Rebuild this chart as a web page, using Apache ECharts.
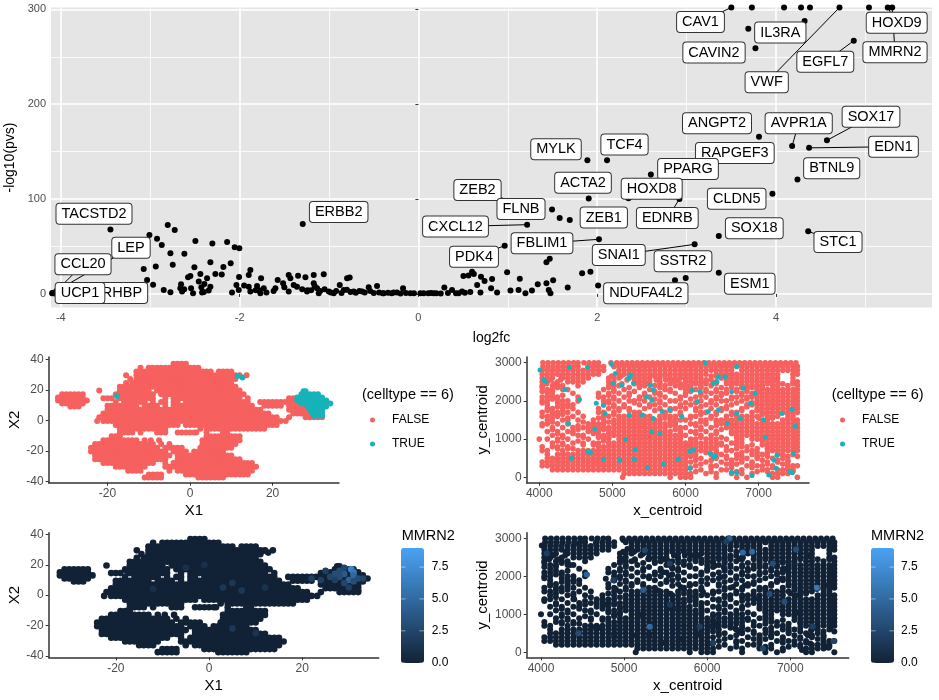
<!DOCTYPE html>
<html><head><meta charset="utf-8">
<style>html,body{margin:0;padding:0;background:#fff}#c{width:939px;height:700px}</style>
<script src="https://cdn.jsdelivr.net/npm/echarts@6/dist/echarts.min.js"></script>
</head><body><div id="c"></div>
<script>
// ---------- volcano data ----------
const geneNames=['CAV1','IL3RA','CAVIN2','VWF','EGFL7','HOXD9','MMRN2','SOX17','ANGPT2','AVPR1A','EDN1','RAPGEF3','TCF4','MYLK','BTNL9','PPARG','HOXD8','ACTA2','ZEB2','CLDN5','FLNB','ZEB1','EDNRB','CXCL12','FBLIM1','PDK4','SNAI1','SSTR2','SOX18','STC1','ESM1','NDUFA4L2','TACSTD2','ERBB2','LEP','CCL20','RHBP','UCP1'];
const geneFc=[3.50,4.32,3.77,4.71,4.87,5.25,5.30,4.57,3.81,4.18,4.37,3.86,2.11,1.89,4.24,2.60,2.35,1.905,1.20,3.96,1.495,1.693,2.92,1.216,2.02,0.965,3.09,2.99,3.36,4.36,3.36,2.01,-3.445,-1.294,-4.09,-4.05,-3.62,-4.07];
const genePv=[302,287.7,259,302,267,302,302,162,165.6,156,154,157,141,141,120.7,126,101,100.7,93,105.6,89.1,77.9,100,73,57.6,50.8,52.3,16.8,61,66,22.4,9,68,73.7,1,3,1,0.5];
const otherFc=[3.73,4.09,4.28,4.38,5.04,3.69,2.87,1.58,-3.009,-2.924,-2.871,-2.804,-2.726,-2.774,-2.495,-2.618,-2.305,-2.14,-2.055,-2.003,-2.1,-2.327,-2.182,-2.748,-2.938,-3.073,-2.506,-2.551,-2.577,-2.439,-2.271,-2.2,-2.364,-2.457,-2.394,-3.035,-2.968,-2.849,-2.774,-2.655,-2.663,-2.644,-2.543,-2.521,-2.428,-2.42,-2.327,-2.346,-1.88,-1.898,-2.006,-1.76,-2.036,-2.01,-2.085,-1.898,-1.88,-1.805,-1.73,-1.768,-1.574,-1.514,-1.6,-1.451,-1.432,-1.346,-1.264,-1.171,-1.059,-1.395,-1.358,-1.451,-1.246,-1.171,-1.134,-1.115,-1.003,-0.947,-0.88,-0.798,-0.769,-0.835,-0.724,-0.63,-0.556,-0.463,-0.388,-0.276,-0.172,-0.09,0.022,0.171,0.29,0.376,0.488,0.503,-4.098,0.6,0.74,0.824,0.657,0.694,0.813,0.88,0.992,1.134,1.03,1.12,1.197,1.27,1.335,1.432,1.458,1.477,1.507,1.432,1.469,1.67,1.831,1.924,0.56,0.62,0.7,-1.2,-1.16,-1.1,-1.05,-0.98,-0.92,-0.86,-0.8,-0.76,-0.7,-0.66,-0.6,-0.54,-0.5,-0.44,-0.4,-0.34,-0.3,-0.24,-0.2,-0.14,-0.05,0.06,0.11,0.14,0.2,0.25,0.33,0.42,0.45,0.52,0.58,-1.3,-1.24,-1.5,-1.62,-1.7,-1.95,-2.62,-2.4,-1.82,-1.78,-1.68];
const otherPv=[302,302,302,302,302,279.6,14.4,80,62.1,58.2,51.6,72.6,67.4,42.8,55.8,42.5,53.3,54.7,49.1,48.1,32.3,33.3,28.4,30.9,28.8,26.3,28.1,19,17.5,21,21,20.4,16.5,13,10.5,14.7,9.8,4.2,1.8,10.2,6,2.5,6,0.8,7,1.4,7.7,3.5,25.3,20,17.9,16.5,9.5,4.2,1.4,7.7,2.5,8.4,6,0.8,14.7,11.2,6,20,16.5,19.3,17.5,20,20.7,9.5,7.7,2.5,2.5,11.2,6,0.8,2.5,0.8,9.5,16.5,17.2,4.2,2.5,2.5,7,8.4,0.8,1.4,6,0.8,0.8,0.8,6.7,4.2,2.5,19,0.8,23.5,13.7,15.8,9.5,1.4,6,1.4,22.8,16.1,3.5,4.2,0.7,3.5,10.2,11.2,4.2,0.7,14.4,33.3,37.2,6.7,21.7,23.5,19.5,21,18,4,8,3,5,1.5,3,1,4.5,2,1.2,3.2,1.5,3,1,1.5,0.6,1.2,0.7,1.4,0.5,1,0.8,0.6,0.7,1,0.6,0.5,1,0.7,0.6,1.2,2,5,4,7,3,1.5,9,5,2,4,4];
// label box centres and which labels carry a connector (layout, page pixels)
const labelCx=[700.5,780.3,714,766.7,825.3,896.7,895,871,717,798.7,893.5,734.8,624.5,556,831.7,688,651.7,583,477.5,736.7,521,603.8,667.3,455.5,542,474,618.8,683,754.3,838,749.8,645.8,94,338.7,131,83,122,80];
const labelCy=[22,32.5,52.5,82.3,61.8,22.8,52.3,116.7,123.3,123.3,146.7,153,144.5,149.3,168.3,169,188.8,182.7,190,198.7,209,217.5,218,226.5,243.3,256.7,255,261.2,228.3,242,283.7,293.3,213.7,212,247.7,264.2,293,293];
const stemmed=['CAV1','VWF','EGFL7','HOXD9','MMRN2','SOX17','AVPR1A','EDN1','RAPGEF3','HOXD8','ZEB2','EDNRB','CXCL12','FBLIM1','PDK4','SNAI1','STC1','LEP','CCL20','RHBP'];

// ---------- t-SNE coordinates, row by row ----------
const tsneRowY=[37,34.5,32,29.5,27,24.5,22,19.5,17,14.5,12,9.5,7,4.5,2,-0.5,-3,-5.5,-8,-10.5,-13,-15.5,-18,-20.5,-23,-25.5,-28,-30.5,-33,-35.5,-37.5];
const tsneRowX=[
[-4,-3,-2,-1],
[-12,-10,-9,-8,-7,-6,-5,-4,-3,-2,-1,0,1,2],
[-13,-12,-11,-10,-9,-8,-7,-6,-5,-4,-3,-2,-1,0,1,2,3,4,5,7,8,9,10],
[-15.5,-13,-12,-11,-10,-9,-8,-7,-6,-5,-4,-3,-2,-1,0,1,2,3,4,5,6,7,8,9,10,11,12,13.7],
[-14.5,-13,-12,-11,-10,-9,-8,-7,-6,-5,-4,-3,-2,-1,0,1,2,3,4,5,6,7,8,9,10,11],
[-15.5,-14,-13,-12,-11,-10,-9,-8,-7,-6,-5,-4,-3,-2,-1,0,1,2,3,4,5,6,7,8,9,10],
[-17,-16,-15,-14,-13,-12,-11,-10,-9,-8,-7,-6,-5,-4,-3,-2,-1,0,1,2,3,4,5,6,7,8,9,10,11],
[-22,-17,-16,-15,-14,-13,-12,-11,-10,-8,-7,-6,-5,-4,-3,-2,-1,0,1,2,3,4,5,6,7,8,9,10,11,12],
[-18,-17,-16,-15,-14,-13,-12,-11,-10,-9,-7,-6,-5,-4,-3,-2,-1,0,1,2,3,4,5,6,7,8,9,10,11,12,13],
[-21,-20,-19,-17,-16,-15,-14,-13,-12,-11,-10,-9,-6,-4,-3,-2,-1,0,1,2,3,4,5,6,7,8,9,10,11,12,14,24,25],
[-18,-16,-15,-14,-13,-12,-11,-9,-7,-6,-4,-3,-1,0,1,2,3,4,5,6,7,8,9,10,11,12,13,14,17,18,19,20,21,22,23,24,25,26],
[-20,-19,-18,-17,-16,-15,-14,-13,-11,-10,-9,-8,-6,-4,-3,-2,-1,0,1,2,3,4,5,6,7,8,9,10,11,12,13,14,15,18,19,20,21,22,24,25,26,27,28],
[-20,-19,-18,-17,-16,-15,-14,-13,-12,-11,-10,-9,-8,-7,-6,-5,-4,-3,-2,-1,0,1,2,3,4,5,6,7,8,9,10,11,12,13,14,15,16,17,24,25,26,27,28],
[-21,-20,-19,-18,-17,-16,-15,-14,-13,-12,-11,-10,-9,-8,-7,-6,-5,-4,-3,-2,-1,0,1,2,3,4,5,6,7,8,9,10,11,12,13,14,15,16,17,18,19,25,26,27,28,29,30,31],
[-22,-21,-20,-19,-18,-17,-16,-15,-14,-13,-12,-11,-10,-9,-8,-7,-6,-5,-4,-3,-2,-1,0,1,2,3,4,5,6,7,8,9,10,11,12,13,14,15,16,17,18,19,20,21,24,28,29,30,31,32],
[-22.5,-21,-20,-19,-18,-17,-16,-15,-14,-13,-12,-11,-10,-9,-8,-7,-6,-5,-4,-3,-2,-1,0,1,2,3,4,5,6,7,8,9,10,11,12,13,14,15,16,17,18,19,20,21,22,23.2],
[-18,-17,-16,-15,-14,-13,-12,-11,-10,-9,-8,-7,-6,-5,-4,-3,-1,0,1,2,3,4,5,6,7,8,9,10,11,12,13,14,15,16,17,18,19,20,21],
[-17,-16,-15,-14,-13,-12,-11,-10,-9,-8,-7,-6,2.5,4,5,6,7,8,9,10,11,12,13,14,15,16,17,18],
[-17,-16,-15,-14,-12,-8,-7,-6,-3,-2,-1,0,1,1.5,4,8,9],
[-19,-18,-17,4,5,6,7,8,9,10,11,12],
[-21,-20,-19,-18,-17,-16,-15,-14,-13,-11,-9.5,-7.5,3,4,5,6,7,8,9,10,11,12],
[-23,-22,-21,-20,-19,-18,-17,-16,-15,-14,-13,-12,-11,-10,-9,-7,-5,3,4,5,6,7,8,9,10,11],
[-24,-23,-22,-21,-20,-19,-18,-17,-16,-15,-14,-13,-12,-11,-10,-9,-8,-6,-5,-4,-3,-2,2.5,3,4,5,6,7,8,9,10],
[-24,-23,-22,-21,-20,-19,-18,-17,-16,-15,-14,-13,-12,-11,-10,-9,-8,-7,-6,-4,-3,-2,-1,1,2,3,4,5,6,7,8],
[-23,-22,-21,-20,-19,-18,-17,-16,-15,-14,-13,-12,-11,-10,-9,-8,-7,-6,-5,-3,-2,-1,0,1,2,3,4,5,6,7,8,9,10],
[-23,-22,-21,-20,-19,-18,-17,-16,-15,-14,-13,-12,-11,-10,-9,-8,-7,-6,-3,-2,-1,0,1,2,3,4,5,6,7,8,9,10,11,12],
[-21,-20,-19,-18,-17,-16,-15,-14,-13,-12,-11,-10,-9,-6,-4,-3,-2,-1,0,1,2,3,4,5,6,7,8,9,10,11,12,13,14,15],
[-18,-17,-16,-15,-14,-13,-12,-11,-6,-5,-4,-3,-2,-1,0,1,2,3,4,5,6,7,8,9,10,11,12,13,14,15,16],
[-15,-14,-13,-12,-5,-3,-2,-1,0,1,2,3,4,5,6,7,8,9,10,11,12,13,14,15],
[-10,-9,-8,-7,-1,0,1,2,3,4,5,6,7,8,9,10,11,12,13,14],
[-11,-10,-9,-8,-7,2,3,4,5,6,7,8]];
const tsneIslandY=[17,15,13,11,9];
const tsneIslandX=[[-31,-30,-29,-28,-27,-26],[-32,-31,-30,-29,-28,-27,-26],[-32,-31,-30,-29,-28,-27,-26,-25],[-31,-30,-29,-28,-27,-26],[-29,-28,-27]];
const tsneTrueY=[19,17,15,13,11,9,7,5,3,28,29,16];
const tsneTrueX=[[27.5,28],[27,28,29,30,31],[26,27,28,29,30,31,32],[26,27,28,29,30,31,32,33],[27,28,29,30,31,32,33,34],[28.5,29.5,30,31,32,33],[29,30,31,32],[29.5,30,31,32],[30,31,32],[12.7],[11.5],[-17.7]];
const tsneExpr=[[30.5,17,7],[31,15,6],[29,14,4],[28,12,3],[31,13,5],[32,11,3],[27,14,3],[30,10,4.5],[26,12,2.5],[28,16,3],[25,16,2],[24,10,2],[22,11,2],[29,8,2.5],[31,9,3],[33,11,2.5],[29,18,2.5],[27,10,2],[30,5,2],[5,8,1.5],[-1,20,1],[7,3,1.5],[3,5,1.5],[-12,4,1],[5,-22,1.5],[10,-25,1.2],[-5,18,1],[12,5,1.2]];

// ---------- spatial coordinates, row by row ----------
const spaceRowY=[3000,2900,2800,2700,2600,2500,2400,2300,2200,2100,2000,1900,1800,1700,1600,1500,1400,1300,1200,1100,1000,900,800,700,600,500,400,300,200,100,0];
const spaceRowX=[
[4050,4120,4190,4260,4330,4400,4470,4530,4610,4680,4750,4810,4980,5060,5130,5200,5270,5340,5410,5480,5550,5620,5690,5760,5830,5900,5970,6040,6110,6180,6250,6320,6390,6460,6530,6600,6670,6740,6810,6880,6950,7020,7090,7160,7230,7300,7370,7440,7510],
[4050,4120,4190,4260,4330,4400,4470,4530,4670,4740,4810,4880,5020,5090,5160,5230,5300,5370,5440,5510,5580,5650,5720,5790,5860,5930,6000,6070,6140,6210,6280,6350,6420,6490,6560,6630,6700,6770,6840,6910,6980,7050,7120,7190,7260,7330,7400,7470,7530],
[4040,4110,4180,4250,4320,4390,4460,4530,4600,4670,4740,4810,4880,5090,5160,5230,5300,5370,5440,5510,5580,5650,5720,5790,5860,5930,6000,6070,6140,6210,6280,6350,6420,6490,6560,6630,6770,6840,6910,6980,7050,7120,7190,7260,7330,7400,7470,7530],
[4040,4110,4180,4250,4320,4390,4460,4530,4600,4670,4740,4810,5090,5160,5230,5300,5370,5440,5510,5580,5650,5720,5790,5860,5930,6000,6070,6140,6210,6280,6420,6490,6560,6630,6700,6770,6840,6910,6980,7050,7120,7190,7260,7470,7530],
[4040,4110,4180,4320,4390,4460,4530,4600,4670,4950,5020,5090,5230,5300,5370,5440,5510,5650,5790,5860,5930,6000,6070,6140,6210,6490,6560,6630,6700,6770,6840,6910,6980,7050,7120,7190,7260,7470],
[4040,4110,4250,4390,4460,4530,4600,4950,5020,5300,5370,5440,5510,5650,5860,6000,6070,6140,6210,6280,6420,6630,6700,6770,6840,6910,6980,7050,7120,7190,7260,7470,7530],
[4040,4180,4250,4320,4530,4950,5020,5090,5370,5440,5580,5720,5860,6000,6070,6210,6350,6630,6770,6840,6910,6980,7050,7190,7260,7400,7530],
[4110,4180,4320,4390,4880,5020,5160,5510,5720,5790,6000,6140,6280,6420,6560,6700,6840,6980,7050,7120,7190,7260,7330,7400,7470,7530],
[4110,4460,4810,4950,5090,5230,5440,5580,5650,5860,6000,6210,6350,6490,6560,6770,6910,6980,7050,7120,7190,7260,7330,7400,7470,7530],
[4040,4110,4250,4530,4810,4880,5020,5160,5370,5510,5720,5930,6140,6280,6420,6630,6700,6840,6910,6980,7050,7120,7190,7260,7330,7400,7470,7530],
[4040,4110,4320,4390,4530,4880,4950,5090,5230,5300,5440,5650,5790,5860,6210,6350,6490,6560,6770,6980,7050,7120,7190,7260,7330,7400,7470,7530],
[4110,4320,4390,4460,4880,5020,5160,5370,5510,5580,5720,5930,6070,6280,6420,6630,6840,6910,6980,7050,7120,7190,7260,7330,7400,7470,7530],
[4110,4180,4320,4460,4810,4950,5090,5230,5440,5650,5790,5860,6000,6140,6350,6490,6560,6770,6980,7050,7120,7190,7260,7330,7400,7470,7530],
[4040,4180,4250,4390,4530,4810,4880,5020,5300,5370,5720,5930,6210,6280,6420,6630,6700,6910,7050,7120,7190,7260,7330,7400,7470,7530],
[4040,4110,4250,4460,4600,4880,4950,5090,5160,5230,5300,5370,5440,5510,5650,5790,5860,6070,6140,6350,6560,6700,6770,6840,6910,6980,7120,7190,7260,7470],
[4110,4320,4390,4530,4740,4880,5020,5090,5160,5230,5300,5370,5440,5510,5580,5650,5790,5930,6000,6210,6280,6420,6490,6560,6630,6700,6770,6840,6910,7050,7120,7330,7400,7470,7530],
[4040,4110,4250,4390,4670,4740,4810,4880,5020,5090,5160,5230,5300,5370,5440,5510,5580,5650,5720,5860,6070,6140,6280,6490,6560,6630,6700,6770,6840,6910,6980,7050,7120,7190,7260,7330,7400,7470,7530],
[4180,4320,4460,4600,4670,4810,4880,4950,5020,5090,5160,5230,5300,5370,5440,5510,5580,5650,5720,5930,6000,6210,6350,6560,6630,6700,6770,6840,6910,6980,7050,7120,7190,7260,7330,7400,7470,7530],
[4110,4250,4390,4460,4670,4810,4950,5020,5090,5160,5230,5300,5370,5440,5510,5580,5650,5720,5790,5930,6070,6140,6280,6420,6630,6700,6770,6840,6910,6980,7050,7120,7190,7260,7330,7400,7470,7530],
[4180,4320,4530,4600,4810,4880,5020,5090,5160,5230,5300,5370,5440,5510,5580,5650,5720,5790,5860,6000,6210,6350,6700,6770,6840,6910,6980,7050,7120,7190,7260,7330,7400,7470,7530],
[4000,4110,4250,4390,4670,4880,4950,5090,5160,5230,5300,5370,5440,5510,5580,5650,5720,5790,5860,5930,6070,6140,6280,6350,6420,6560,6770,6910,6980,7050,7120,7190,7260,7330,7400,7470,7530],
[4180,4320,4460,4600,4740,4810,4950,5020,5090,5160,5230,5300,5370,5440,5510,5580,5650,5720,5790,5860,5930,6000,6140,6210,6280,6350,6420,6490,6630,6770,7120,7190,7260,7330,7400,7470,7530],
[4040,4180,4250,4390,4810,4880,4950,5020,5090,5160,5230,5300,5370,5440,5510,5580,5650,5720,5790,5860,5930,6000,6070,6140,6210,6280,6350,6420,6560,6770,6840,7120,7190,7260,7330,7400,7470,7530],
[4040,4110,4320,4530,4600,4670,4740,4810,4880,4950,5020,5090,5160,5230,5300,5370,5440,5510,5580,5650,5720,5790,5860,5930,6000,6070,6140,6210,6280,6420,6560,6630,6840,6910,7190,7260,7330,7400,7470,7530],
[4110,4250,4320,4390,4460,4530,4600,4670,4740,4810,4880,4950,5020,5090,5160,5230,5300,5370,5440,5510,5580,5650,5720,5790,5860,5930,6000,6140,6350,6490,6700,6910,7050,7260,7330,7470],
[4110,4180,4250,4320,4390,4460,4530,4600,4670,4740,4810,4880,4950,5020,5090,5160,5230,5300,5370,5440,5510,5580,5650,5720,5790,5860,5930,6000,6140,6210,6420,6560,6700,6840,6980,7190,7330],
[4040,4110,4180,4250,4320,4390,4460,4530,4600,4670,4740,4810,4880,4950,5020,5090,5160,5230,5300,5370,5440,5510,5580,5650,5720,5790,5860,5930,6000,6070,6280,6490,6630,6770,6910,7120,7260,7400],
[4040,4110,4180,4250,4320,4390,4460,4530,4600,4670,4740,4810,4880,4950,5020,5090,5160,5230,5300,5370,5440,5510,5580,5650,5720,5790,5860,5930,6000,6140,6350,6420,6630,6840,6980,7050,7190,7400,7470,7530],
[4180,4250,4320,4390,4460,4530,4600,4670,4740,4810,4880,4950,5020,5090,5160,5230,5300,5370,5440,5510,5580,5650,5720,5790,5860,5930,6000,6210,6490,6560,6770,7050,7120,7260,7330,7400,7470],
[5160,5230,5300,5370,5440,5510,5580,5650,5720,5790,5860,5930,6000,6070,6280,6420,6630,6770,6910,7190,7260,7330,7400],
[5140,5790,5930,6000,6070,6420,6700,6840,7190,7260,7530]];
const spaceFillY=[2650,2550,2450,2350,2250,2150,2050,1950,1850,1750,1650,1550,1450,1350,1250,1150,1050,950,850,750,650,550,450,350,250,150];
const spaceFillX=[
[4300,4990,5120,5580,5720,6350,6420],
[4150,4290,5200,5600,5730,5800,5900,6280,6350,6560,7200],
[4100,4200,4990,5130,5300,5480,5650,5790,5930,6140,6280,6420,6560,6700,7120,7330,7470],
[4040,4250,4950,5230,5370,5650,5930,6070,6210,6490,6630,6770,6910,7050],
[4040,4180,5020,5300,5580,5790,6070,6280,6420,6700,6840,6980],
[4180,4320,4950,5230,5440,5650,6000,6210,6490,6770,6910],
[4180,4250,5020,5370,5580,5930,6070,6420,6630,6840],
[4040,4250,4950,5300,5650,6000,6140,6350,6700,6910],
[4250,4390,5020,5160,5510,5930,6210,6560,6840],
[4110,4320,5090,5230,5580,5790,6140,6490,6770,6980],
[4180,4320,5020,5720,5930,6210,6420,6630,7050,7400],
[4180,4390,4810,5720,5860,6070,6350,7000,7190,7400],
[4180,4600,4950,5790,5860,6210,6420],
[4040,4530,4740,5790,5860,6140,6420],
[4180,4530,4740,4880,5860,6210,6490],
[4250,4460,4740,4950,5930,6140,6420,6630],
[4320,4600,4810,4950,5930,6210,6490,6700],
[4250,4530,4880,6070,6700,7050],
[4320,4600,4740,6070,6490,6700,6910,7050],
[4250,4390,4460,6350,6700,6980,7120],
[6070,6280,6420,6770,6980,7120],
[6070,6420,6560,6770,6980,7120,7400,7530],
[6140,6350,6630,6770,7050,7260,7400],
[6210,6560,6700,6910,7120,7330],
[6070,6350,6630,6910,7190,7400],
[6140,6350,6700,6980,7120,7470]];
const spaceTrueX=[4010,4060,4090,4350,4550,4400,4780,4880,4900,4760,4660,4700,4440,4880,4990,5040,5010,5130,5220,5250,5290,5520,5470,5540,5560,5680,5790,5230,5410,5560,5950,5540,5650,5180,5310,5300,5100,5480,5700,5900,6060,6060,6340,6410,6380,6630,6700,6910,7140,7240,7210,7250,7430,7460,7480,7500,7460,7070,7090,7320,6700,6890,6950,6630,6790,6430,6380,6450,6540,6270,6200,6090,6160,6310,6450,6570,6750,6700,6110,4660,4410];
const spaceTrueY=[2810,2550,2500,2300,2040,1400,1940,1890,1670,1260,670,650,500,470,2960,2720,2460,2420,2590,2680,2460,2420,2110,2020,2280,1720,1760,1630,1630,1540,1590,1190,1150,990,720,470,450,260,340,480,690,235,630,560,520,130,120,50,60,235,450,580,150,120,630,1340,1780,1500,1050,1670,1670,1940,2200,2240,2330,2500,2460,2630,2630,3000,2240,2280,1980,1720,1760,1410,1540,2900,715,2880,2880];
const spaceExpr=[[6270,3000,4],[6430,2630,5],[6540,2650,5],[7070,2710,3],[7320,1700,6],[6750,1535,3],[5230,1640,4],[4550,2050,4.5],[5310,675,5],[4450,500,3],[5250,2690,2.5],[5550,2340,2],[6670,100,2.5],[6790,2340,3],[6070,240,2],[7520,300,2.5],[5550,1250,1.5],[5910,680,2],[4870,1900,2],[7270,680,2],[4070,2600,2],[6930,1330,3],[6230,2910,2]];
const legendNames=['FALSE','TRUE'];
const colorbarTicks=[0,2.5,5,7.5];

// ---------- build ----------
const FONT='"Liberation Sans",Arial,sans-serif';
const RED='#F6605E',TEAL='#17B3BA';
const rows=(ys,xs)=>ys.flatMap((y,i)=>xs[i].map(x=>[x,y]));
const tsneFalse=rows(tsneRowY,tsneRowX).concat(rows(tsneIslandY,tsneIslandX));
const tsneTrue=rows(tsneTrueY,tsneTrueX);
const spaceFalse=rows(spaceRowY,spaceRowX).concat(rows(spaceFillY,spaceFillX));
const spaceTrue=spaceTrueX.map((x,i)=>[x,spaceTrueY[i]]);
const tsneAll=tsneFalse.concat(tsneTrue).map(p=>[p[0],p[1],0]).concat(tsneExpr);
const spaceAll=spaceFalse.concat(spaceTrue).map(p=>[p[0],p[1],0]).concat(spaceExpr);

const G={outerBoundsMode:'none',containLabel:false};
const grids=[
 {...G,left:51,top:7.5,width:881,height:300,show:true,backgroundColor:'#E5E5E5',borderWidth:0},
 {...G,left:48.7,top:357,width:290.3,height:125.7},
 {...G,left:526.7,top:357,width:282.3,height:125.7},
 {...G,left:48.7,top:532.7,width:330,height:124.6},
 {...G,left:526.7,top:532.7,width:322,height:124.6}];
const axisClassic=(g,min,max,ticks,name,gap)=>({type:'value',gridIndex:g,min,max,name,nameLocation:'middle',nameGap:gap,
 nameTextStyle:{fontFamily:FONT,fontSize:15,color:'#000'},
 axisLine:{show:true,onZero:false,lineStyle:{color:'#333',width:1.5}},
 axisTick:{show:true,length:3,customValues:ticks,lineStyle:{color:'#333',width:1}},
 axisLabel:{customValues:ticks,fontFamily:FONT,fontSize:12,color:'#4D4D4D',margin:5,formatter:v=>String(v)},
 splitLine:{show:false}});
const tsX=[-20,0,20],tsY=[-40,-20,0,20,40],spX=[4000,5000,6000,7000],spY=[0,1000,2000,3000];
const volX=[-4,-2,0,2,4],volY=[0,100,200,300];
const volXaxis={type:'value',gridIndex:0,min:-4.11,max:5.745,name:'log2fc',nameLocation:'middle',nameGap:24,
 nameTextStyle:{fontFamily:FONT,fontSize:14,color:'#000'},axisLine:{show:false},
 axisTick:{show:true,length:3,customValues:volX,lineStyle:{color:'#333'}},
 axisLabel:{customValues:volX,fontFamily:FONT,fontSize:11,color:'#4D4D4D',margin:5},
 splitLine:{show:true,lineStyle:{color:'#fff',width:1.6}}};
const volYaxis={type:'value',gridIndex:0,min:-14.3,max:302,name:'-log10(pvs)',nameLocation:'middle',nameGap:23,
 nameTextStyle:{fontFamily:FONT,fontSize:14,color:'#000'},axisLine:{show:false},
 axisTick:{show:true,length:3,customValues:volY,lineStyle:{color:'#333'}},
 axisLabel:{customValues:volY,fontFamily:FONT,fontSize:11,color:'#4D4D4D',margin:5},
 splitLine:{show:true,lineStyle:{color:'#fff',width:1.6}}};
const minorX={type:'value',gridIndex:0,min:-4.11,max:5.745,position:'top',axisLine:{show:false},
 axisTick:{show:false,customValues:[-3,-1,1,3,5]},axisLabel:{show:false,customValues:[-3,-1,1,3,5]},
 splitLine:{show:true,lineStyle:{color:'#fff',width:0.8}}};
const minorY={type:'value',gridIndex:0,min:-14.3,max:302,position:'right',axisLine:{show:false},
 axisTick:{show:false,customValues:[50,150,250]},axisLabel:{show:false,customValues:[50,150,250]},
 splitLine:{show:true,lineStyle:{color:'#fff',width:0.8}}};
const xAxes=[volXaxis,
 axisClassic(1,-34.25,36.1,tsX,'X1',21),
 axisClassic(2,3828,7689,spX,'x_centroid',21),
 axisClassic(3,-34.4,36.4,tsX,'X1',21),
 axisClassic(4,3828,7703,spX,'x_centroid',21),minorX];
const yAxes=[volYaxis,
 axisClassic(1,-40.9,41.5,tsY,'X2',26),
 axisClassic(2,-141,3150,spY,'y_centroid',36),
 axisClassic(3,-40.9,41.1,tsY,'X2',26),
 axisClassic(4,-131,3150,spY,'y_centroid',36),minorY];

const geneData=geneNames.map((n,i)=>({name:n,value:[geneFc[i],genePv[i]]}));
const otherData=otherFc.map((x,i)=>[x,otherPv[i]]);
const pointStyle={animation:false,progressive:0,silent:true};
const series=[
 {type:'custom',coordinateSystem:'cartesian2d',xAxisIndex:0,yAxisIndex:0,z:3,silent:true,animation:false,clip:true,
  data:geneNames.map((n,i)=>[geneFc[i],genePv[i],i]).filter(d=>stemmed.includes(geneNames[d[2]])),
  renderItem:(p,api)=>{const a=api.coord([api.value(0),api.value(1)]);const i=api.value(2);
    return {type:'line',shape:{x1:a[0],y1:a[1],x2:labelCx[i],y2:labelCy[i]},style:{stroke:'#000',lineWidth:1}};}},
 {type:'scatter',xAxisIndex:0,yAxisIndex:0,data:otherData,symbolSize:6,itemStyle:{color:'#000',opacity:1},clip:true,z:4,...pointStyle},
 {type:'scatter',xAxisIndex:0,yAxisIndex:0,data:geneData,symbolSize:6,itemStyle:{color:'#000',opacity:1},clip:true,z:4,...pointStyle,
  label:{show:true,formatter:'{b}',fontFamily:FONT,fontSize:14.5,color:'#000',backgroundColor:'#fff',borderColor:'#333',borderWidth:1,borderRadius:3,padding:[3,5,2,5]},
  labelLayout:p=>({x:labelCx[p.dataIndex],y:labelCy[p.dataIndex],align:'center',verticalAlign:'middle'})},
 {type:'scatter',name:'FALSE',xAxisIndex:1,yAxisIndex:1,data:tsneFalse,symbolSize:6,itemStyle:{color:RED,opacity:1},...pointStyle},
 {type:'scatter',name:'TRUE',xAxisIndex:1,yAxisIndex:1,data:tsneTrue,symbolSize:6,itemStyle:{color:TEAL,opacity:1},...pointStyle},
 {type:'scatter',name:'FALSE',xAxisIndex:2,yAxisIndex:2,data:spaceFalse,symbolSize:5.6,itemStyle:{color:RED,opacity:1},...pointStyle},
 {type:'scatter',name:'TRUE',xAxisIndex:2,yAxisIndex:2,data:spaceTrue,symbolSize:5,itemStyle:{color:TEAL,opacity:1},...pointStyle},
 {type:'scatter',name:'MMRN2 tsne',xAxisIndex:3,yAxisIndex:3,data:tsneAll,symbolSize:6.6,itemStyle:{opacity:1},...pointStyle},
 {type:'scatter',name:'MMRN2 space',xAxisIndex:4,yAxisIndex:4,data:spaceAll,symbolSize:6,itemStyle:{opacity:1},...pointStyle}];
const bar=(left,idx)=>({type:'continuous',seriesIndex:idx,dimension:2,min:0,max:9,left,top:548,itemWidth:23,itemHeight:115,padding:0,
 text:null,calculable:false,realtime:false,hoverLink:false,inRange:{color:['#122236','#4AA3F5']},textStyle:{fontSize:0}});
const legend=(left)=>({orient:'vertical',left,top:413,data:legendNames,icon:'circle',itemWidth:5,itemHeight:5,itemGap:10,selectedMode:false,padding:0,
 textStyle:{fontFamily:FONT,fontSize:12,color:'#000',padding:[0,0,0,12],lineHeight:14}});
const gtext=(x,y,text,size)=>({type:'text',x,y,z:100,style:{text,fontFamily:FONT,fontSize:size,fill:'#000',verticalAlign:'middle'}});
const graphics=[gtext(362,395,'(celltype == 6)',14.5),gtext(831.7,395,'(celltype == 6)',14.5),
 gtext(401.7,536,'MMRN2',14.5),gtext(871,536,'MMRN2',14.5)];
[[401,431.7],[871,901]].forEach(([l,t])=>colorbarTicks.forEach(v=>{
  const y=662.7-v*12.75;
  graphics.push(gtext(t,y,v.toFixed(1),12));
  graphics.push({type:'line',z:100,shape:{x1:l,y1:y,x2:l+4.6,y2:y},style:{stroke:'#fff',lineWidth:0.6,opacity:v?0.8:0.5}});
  graphics.push({type:'line',z:100,shape:{x1:l+18.4,y1:y,x2:l+23,y2:y},style:{stroke:'#fff',lineWidth:0.6,opacity:v?0.8:0.5}});
}));
const chart=echarts.init(document.getElementById('c'),null,{renderer:'canvas'});
chart.setOption({animation:false,backgroundColor:'#fff',tooltip:{show:false},
 grid:grids,xAxis:xAxes,yAxis:yAxes,series,
 visualMap:[bar(401,7),bar(871,8)],legend:[legend(370),legend(840)],graphic:graphics});
</script></body></html>
